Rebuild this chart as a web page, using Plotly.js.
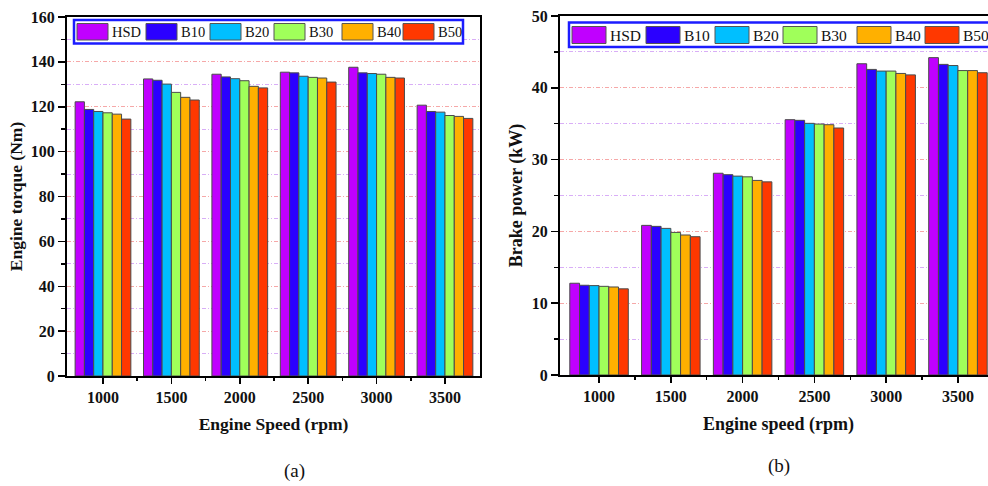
<!DOCTYPE html>
<html>
<head>
<meta charset="utf-8">
<script src="https://cdn.plot.ly/plotly-3.0.1.min.js"></script>
<style>
html,body{margin:0;padding:0;overflow:hidden;background:#fff;}
#chart{width:1000px;height:486px;}
</style>
</head>
<body>
<div id="chart"></div>
<script>
// ---- data ----
const rpm = [1000, 1500, 2000, 2500, 3000, 3500];
const seriesNames = ['HSD', 'B10', 'B20', 'B30', 'B40', 'B50'];
const seriesColors = ['#C000FF', '#2B00FF', '#00BFFF', '#A0FF5A', '#FFB000', '#FF3800'];

const torqueHSD = [122.2, 132.4, 134.5, 135.4, 137.6, 120.7];
const torqueB10 = [118.8, 131.8, 133.3, 135.1, 135.1, 117.9];
const torqueB20 = [117.9, 130.1, 132.5, 133.6, 134.8, 117.6];
const torqueB30 = [117.3, 126.4, 131.6, 133.1, 134.5, 116.1];
const torqueB40 = [116.7, 124.2, 129.1, 132.8, 133.1, 115.7];
const torqueB50 = [114.5, 123.0, 128.4, 131.0, 132.8, 114.8];

const powerHSD = [12.78, 20.84, 28.1, 35.56, 43.35, 44.2];
const powerB10 = [12.5, 20.7, 27.9, 35.47, 42.56, 43.26];
const powerB20 = [12.45, 20.42, 27.7, 35.05, 42.33, 43.1];
const powerB30 = [12.35, 19.86, 27.6, 34.95, 42.33, 42.4];
const powerB40 = [12.26, 19.5, 27.1, 34.86, 42.0, 42.4];
const powerB50 = [12.0, 19.26, 26.9, 34.4, 41.8, 42.1];

const torqueSeries = [torqueHSD, torqueB10, torqueB20, torqueB30, torqueB40, torqueB50];
const powerSeries = [powerHSD, powerB10, powerB20, powerB30, powerB40, powerB50];

// ---- build ----
const W = 1000, H = 486;
const px = v => v / W;
const py = v => 1 - v / H;
const serif = 'Liberation Serif, Times New Roman, serif';

const traces = [];
seriesNames.forEach((name, i) => {
  traces.push({
    type: 'bar', name: name, x: rpm, y: torqueSeries[i], xaxis: 'x', yaxis: 'y',
    marker: {color: seriesColors[i], line: {color: '#4a4a4a', width: 1}},
    showlegend: false
  });
  traces.push({
    type: 'bar', name: name, x: rpm, y: powerSeries[i], xaxis: 'x2', yaxis: 'y2',
    marker: {color: seriesColors[i], line: {color: '#4a4a4a', width: 1}},
    showlegend: false
  });
});

const mids = rpm.slice(1).map((v, i) => (v + rpm[i]) / 2);
const tickFont = {family: serif, size: 16, color: '#111', weight: 700};
const titleFontA = {family: serif, size: 17.5, color: '#111', weight: 700};
const titleFontB = {family: serif, size: 18, color: '#111', weight: 700};

function xAxis(domain, range, anchor) {
  return {
    domain: domain, range: range, anchor: anchor,
    tickvals: rpm, ticktext: rpm.map(String),
    ticks: 'outside', ticklen: 6, tickwidth: 1.5, tickcolor: '#000',
    showline: true, linecolor: '#000', linewidth: 2, mirror: true,
    showgrid: false, zeroline: false,
    tickfont: tickFont,
    minor: {tickvals: mids, ticks: 'outside', ticklen: 3, tickwidth: 1.5, tickcolor: '#000', showgrid: false}
  };
}
function yAxis(domain, range, dtick, anchor, title, font, standoff) {
  return {
    domain: domain, range: range, anchor: anchor, dtick: dtick,
    ticks: 'outside', ticklen: 7, tickwidth: 1.5, tickcolor: '#000',
    showline: true, linecolor: '#000', linewidth: 2, mirror: true,
    zeroline: false,
    showgrid: true, gridcolor: '#F6A8A8', griddash: '4px,2px,1px,2px', gridwidth: 1,
    tickfont: tickFont,
    title: {text: title, font: font, standoff: standoff},
    minor: {dtick: dtick / 2, ticks: 'outside', ticklen: 4, tickwidth: 1.5, tickcolor: '#000',
            showgrid: true, gridcolor: '#D9AEF7', griddash: '4px,2px,1px,2px', gridwidth: 1}
  };
}

const layout = {
  width: W, height: H,
  margin: {l: 0, r: 0, t: 0, b: 0},
  paper_bgcolor: '#fff', plot_bgcolor: '#fff',
  barmode: 'group', bargap: 0.185, bargroupgap: 0,
  showlegend: false,
  xaxis: Object.assign(xAxis([px(67), px(480)], [737, 3756], 'y'),
    {title: {text: 'Engine Speed (rpm)', font: titleFontA, standoff: 13}}),
  yaxis: yAxis([1 - 376 / H, 1 - 17 / H], [0, 160], 20, 'x', 'Engine torque (Nm)', titleFontA, 4),
  xaxis2: Object.assign(xAxis([px(560), px(997)], [728, 3772], 'y2'),
    {title: {text: 'Engine speed (rpm)', font: titleFontB, standoff: 13}}),
  yaxis2: yAxis([1 - 375 / H, 1 - 16 / H], [0, 50], 10, 'x2', 'Brake power (kW)', titleFontB, 4),
  shapes: [], annotations: []
};

// custom legends (wide swatches, blue frame)
function addLegend(box, swX, swW, swY0, swY1, fontSize) {
  layout.shapes.push({type: 'rect', xref: 'paper', yref: 'paper',
    x0: px(box[0]), x1: px(box[1]), y0: py(box[3]), y1: py(box[2]),
    line: {color: '#1C1CFF', width: 2.5}, fillcolor: '#fff', layer: 'above'});
  seriesNames.forEach((name, i) => {
    layout.shapes.push({type: 'rect', xref: 'paper', yref: 'paper',
      x0: px(swX[i]), x1: px(swX[i] + swW), y0: py(swY1), y1: py(swY0),
      line: {color: '#555', width: 1}, fillcolor: seriesColors[i], layer: 'above'});
    layout.annotations.push({xref: 'paper', yref: 'paper', x: px(swX[i] + swW + 2), y: py((swY0 + swY1) / 2 + 0.5),
      xanchor: 'left', yanchor: 'middle', showarrow: false, text: name,
      font: {family: serif, size: fontSize, color: '#111'}});
  });
}
addLegend([74, 463, 20, 43.5], [77, 146, 210, 274, 342, 403], 31, 23.5, 40, 14.5);
addLegend([569, 995, 22.5, 47], [572, 646, 715, 783, 857, 925], 34, 26.5, 43.5, 15.5);

// panel labels
layout.annotations.push({xref: 'paper', yref: 'paper', x: px(294), y: py(471), xanchor: 'center', yanchor: 'middle',
  showarrow: false, text: '(a)', font: {family: serif, size: 19, color: '#111'}});
layout.annotations.push({xref: 'paper', yref: 'paper', x: px(779), y: py(466), xanchor: 'center', yanchor: 'middle',
  showarrow: false, text: '(b)', font: {family: serif, size: 19, color: '#111'}});

Plotly.newPlot('chart', traces, layout, {staticPlot: true, displayModeBar: false});
</script>
</body>
</html>
